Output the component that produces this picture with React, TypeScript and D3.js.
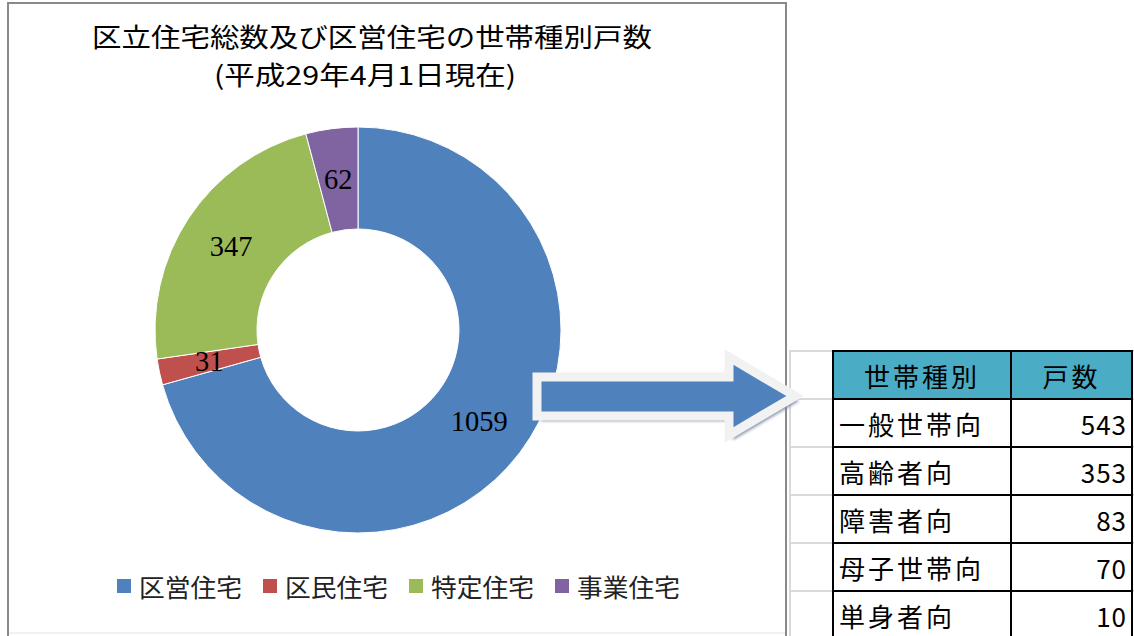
import React from "react";
import * as d3 from "d3";

const categories = ["区営住宅", "区民住宅", "特定住宅", "事業住宅"];
const values = [1059, 31, 347, 62];
const sliceColors = ["#4f81bd", "#c0504d", "#9bbb59", "#8064a2"];
const titleLines = ["区立住宅総数及び区営住宅の世帯種別戸数", "(平成29年4月1日現在)"];
const tableHeader = ["世帯種別", "戸数"];
const householdTypes = ["一般世帯向", "高齢者向", "障害者向", "母子世帯向", "単身者向"];
const householdCounts = [543, 353, 83, 70, 10];

const W = 1134;
const H = 636;

export default function App() {
  const cx = 358;
  const cy = 330;
  const outerR = 203;
  const innerR = 101;
  const pie = d3
    .pie<number>()
    .sort(null)
    .value((d) => d)
    .startAngle(0)
    .endAngle(2 * Math.PI);
  const arcs = pie(values);
  const arcGen = d3.arc<d3.PieArcDatum<number>>().innerRadius(innerR).outerRadius(outerR);
  const labelArc = d3
    .arc<d3.PieArcDatum<number>>()
    .innerRadius((innerR + outerR) / 2)
    .outerRadius((innerR + outerR) / 2);

  const legendX = d3.scaleLinear().domain([0, 1]).range([117, 263]);

  // table layout
  const tableLeft = 833;
  const colDiv = 1011;
  const tableRight = 1132;
  const headerTop = 351;
  const rowH = 48;
  const rowY = d3
    .scaleBand<number>()
    .domain(householdTypes.map((_, i) => i))
    .range([headerTop + rowH, headerTop + rowH * (householdTypes.length + 1)])
    .padding(0);

  const gridYs = d3.range(0, 7).map((i) => headerTop + i * rowH);

  // arrow polygon (decoration)
  const arrowPts: [number, number][] = [
    [537, 377],
    [729, 377],
    [729, 357],
    [795, 396],
    [729, 435],
    [729, 416],
    [537, 416],
  ];
  const arrowPath = d3.line()(arrowPts.concat([arrowPts[0]])) + "Z";

  const cjk = "'Noto Sans CJK JP', 'Noto Sans', sans-serif";

  return (
    <svg
      width={W}
      height={H}
      style={{ position: "absolute", left: 0, top: 0, background: "#fff" }}
      xmlns="http://www.w3.org/2000/svg"
    >
      <defs>
        <filter id="blur" x="-10%" y="-10%" width="120%" height="130%">
          <feGaussianBlur stdDeviation="1.5" />
        </filter>
      </defs>
      <rect x={0} y={0} width={W} height={H} fill="#fff" />

      {/* spreadsheet grid */}
      <g stroke="#d9d9d9" strokeWidth={2}>
        {gridYs.map((y, i) => (
          <line key={i} x1={789} x2={W} y1={y} y2={y} />
        ))}
        <line x1={790} x2={790} y1={headerTop - 1} y2={H} />
      </g>

      {/* chart frame */}
      <g stroke="#898989" strokeWidth={2} fill="none">
        <line x1={8} x2={8} y1={2} y2={H} />
        <line x1={7} x2={787} y1={3} y2={3} />
        <line x1={786} x2={786} y1={2} y2={H} />
      </g>
      <line x1={9} x2={785} y1={633} y2={633} stroke="#e4e4e4" strokeWidth={1} />

      {/* title */}
      <g fontFamily={cjk} fill="#000" textAnchor="middle" fontSize={26}>
        <text x={372} y={47} textLength={560} lengthAdjust="spacingAndGlyphs">
          {titleLines[0]}
        </text>
        <text x={365} y={85} textLength={302} lengthAdjust="spacingAndGlyphs">
          {titleLines[1]}
        </text>
      </g>

      {/* donut */}
      <g transform={`translate(${cx},${cy})`}>
        {arcs.map((a, i) => (
          <path key={i} d={arcGen(a) || ""} fill={sliceColors[i]} stroke="#fff" strokeWidth={1} />
        ))}
        {arcs.map((a, i) => {
          const [lx, ly] = labelArc.centroid(a);
          return (
            <text
              key={i}
              x={lx}
              y={ly}
              textAnchor="middle"
              dominantBaseline="central"
              fontFamily="'Liberation Serif', 'DejaVu Serif', serif"
              fontSize={28.5}
              fill="#000"
            >
              {values[i]}
            </text>
          );
        })}
      </g>

      {/* legend */}
      <g fontFamily={cjk} fontSize={25} fill="#222">
        {categories.map((c, i) => (
          <g key={i} transform={`translate(${legendX(i)},586)`}>
            <rect x={0} y={-7} width={14} height={14} fill={sliceColors[i]} />
            <text x={22} y={0} dominantBaseline="central" textLength={103} lengthAdjust="spacingAndGlyphs">
              {c}
            </text>
          </g>
        ))}
      </g>

      {/* table */}
      <g>
        <rect x={tableLeft} y={headerTop} width={tableRight - tableLeft} height={rowH} fill="#4bacc6" />
        <g stroke="#000" strokeWidth={2}>
          {gridYs.map((y, i) => (
            <line key={i} x1={tableLeft - 1} x2={tableRight + 1} y1={y} y2={y} />
          ))}
          <line x1={tableLeft} x2={tableLeft} y1={headerTop - 1} y2={H} />
          <line x1={colDiv} x2={colDiv} y1={headerTop - 1} y2={H} />
          <line x1={tableRight} x2={tableRight} y1={headerTop - 1} y2={H} />
        </g>
        <g fontFamily={cjk} fontSize={26} fill="#000">
          <text x={(tableLeft + colDiv) / 2} y={headerTop + rowH / 2} textAnchor="middle" dominantBaseline="central" letterSpacing={3}>
            {tableHeader[0]}
          </text>
          <text x={(colDiv + tableRight) / 2} y={headerTop + rowH / 2} textAnchor="middle" dominantBaseline="central" letterSpacing={3}>
            {tableHeader[1]}
          </text>
          {householdTypes.map((t, i) => (
            <text key={i} x={tableLeft + 6} y={(rowY(i) as number) + rowH / 2} dominantBaseline="central" letterSpacing={3}>
              {t}
            </text>
          ))}
          {householdCounts.map((v, i) => (
            <text key={i} x={tableRight - 5} y={(rowY(i) as number) + rowH / 2} textAnchor="end" dominantBaseline="central" letterSpacing={1}>
              {v}
            </text>
          ))}
        </g>
      </g>

      {/* arrow */}
      <path d={arrowPath} transform="translate(4,5)" fill="#7d8ca6" filter="url(#blur)" opacity={0.9} />
      <path d={arrowPath} fill="#4f81bd" stroke="#f2f2f2" strokeWidth={9} strokeLinejoin="miter" />
    </svg>
  );
}
